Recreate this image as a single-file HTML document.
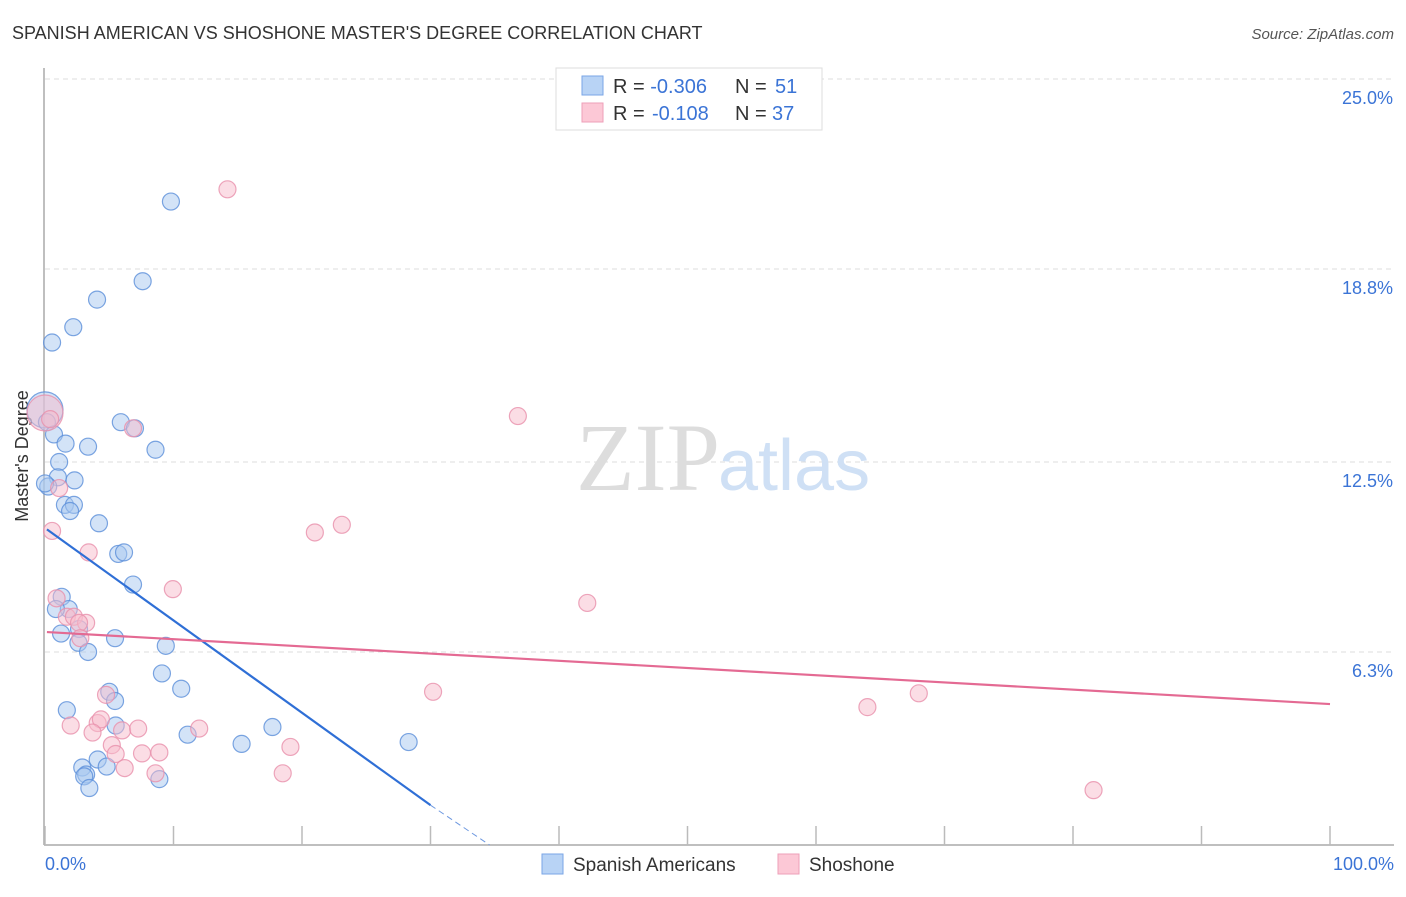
<!DOCTYPE html>
<html><head><meta charset="utf-8"><style>
body{margin:0;background:#fff;font-family:"Liberation Sans",sans-serif}
</style></head><body>
<svg width="1406" height="892" xmlns="http://www.w3.org/2000/svg" style="font-family:'Liberation Sans',sans-serif">
<text x="12" y="39" font-size="18" fill="#333">SPANISH AMERICAN VS SHOSHONE MASTER'S DEGREE CORRELATION CHART</text>
<text x="1394" y="39" font-size="15" fill="#555" font-style="italic" text-anchor="end">Source: ZipAtlas.com</text>
<g id="grid"></g>
<text x="720" y="490" font-size="96" font-family="Liberation Serif" fill="#ddd" text-anchor="end">ZIP</text>
<text x="718" y="490" font-size="72" fill="#cfe0f5">atlas</text>
<line x1="44" y1="68" x2="44" y2="845" stroke="#aaa" stroke-width="1.5"/>
<line x1="44" y1="845" x2="1394" y2="845" stroke="#aaa" stroke-width="1.5"/>
<g id="xticks"></g>
<text x="28" y="456" font-size="18" fill="#333" text-anchor="middle" transform="rotate(-90 28 456)">Master's Degree</text>
<text x="45" y="870" font-size="18" fill="#3b74d6">0.0%</text>
<text x="1394" y="870" font-size="18" fill="#3b74d6" text-anchor="end">100.0%</text>
<g id="pts"></g>
<g id="trend"></g>
<g>
<rect x="556" y="68" width="266" height="62" fill="#fff" stroke="#ddd"/>
<rect x="582" y="76" width="21" height="19" fill="#b8d3f5" stroke="#7aa6e6"/>
<rect x="582" y="103" width="21" height="19" fill="#fcc8d6" stroke="#ee9fb8"/>
<text x="613" y="93" font-size="20" fill="#333">R = <tspan fill="#3b74d6">-0.306</tspan><tspan x="735">N = </tspan><tspan fill="#3b74d6" x="775">51</tspan></text>
<text x="613" y="120" font-size="20" fill="#333">R = <tspan fill="#3b74d6" x="652">-0.108</tspan><tspan x="735">N = </tspan><tspan fill="#3b74d6" x="772">37</tspan></text>
</g>
<g>
<rect x="542" y="854" width="21" height="20" fill="#b8d3f5" stroke="#7aa6e6"/>
<text x="573" y="871" font-size="19" fill="#333">Spanish Americans</text>
<rect x="778" y="854" width="21" height="20" fill="#fcc8d6" stroke="#ee9fb8"/>
<text x="809" y="871" font-size="19" fill="#333">Shoshone</text>
</g>
</svg>
<script>
const yTicks=[25.0,18.8,12.5,6.3];
const yTickLabels=["25.0%","18.8%","12.5%","6.3%"];
const xTickVals=[0,10,20,30,40,50,60,70,80,90,100];
const blueX=[9.8,7.6,4.05,2.2,0.55,0.0,0.15,0.7,5.9,7.0,1.6,3.35,8.6,1.1,1.0,2.3,0.25,1.55,2.25,1.95,4.2,5.7,6.15,6.85,1.3,1.85,0.85,2.65,1.25,5.45,2.6,3.35,9.4,9.1,10.6,5.0,5.45,1.7,5.5,17.7,11.1,15.3,28.3,4.1,4.8,2.9,3.2,3.05,8.9,3.45,0.0];
const blueY=[21.0,18.4,17.8,16.9,16.4,14.2,13.8,13.4,13.8,13.6,13.1,13.0,12.9,12.5,12.0,11.9,11.7,11.1,11.1,10.9,10.5,9.5,9.55,8.5,8.1,7.7,7.7,7.05,6.9,6.75,6.6,6.3,6.5,5.6,5.1,5.0,4.7,4.4,3.9,3.85,3.6,3.3,3.36,2.79,2.56,2.53,2.3,2.24,2.15,1.86,11.8];
const pinkX=[14.2,0.0,0.4,6.85,36.8,1.1,0.55,3.4,21.0,23.1,9.95,42.2,0.9,1.7,2.25,3.2,2.65,2.75,30.2,4.75,68.0,64.0,4.1,4.35,2.0,3.7,6.0,7.25,5.2,5.5,12.0,7.55,8.9,19.1,6.2,8.6,18.5,81.6];
const pinkY=[21.4,14.1,13.9,13.6,14.0,11.65,10.25,9.55,10.2,10.45,8.35,7.9,8.05,7.45,7.45,7.25,7.25,6.75,5.0,4.9,4.95,4.5,3.98,4.1,3.9,3.67,3.74,3.8,3.26,2.97,3.8,2.99,3.02,3.2,2.51,2.34,2.34,1.79];
const blueBig=[5], pinkBig=[1];
const blueTrend=[[0.15,10.3],[30,1.3]], blueDash=[[30,1.3],[34.6,0]];
const pinkTrend=[[0.15,6.95],[100,4.6]];
const NS="http://www.w3.org/2000/svg";
const X=v=>45+v/100*1285, Y=v=>845-v/25*766;
function mk(t,a,p){const e=document.createElementNS(NS,t);for(const k in a)e.setAttribute(k,a[k]);p.appendChild(e);return e;}
const grid=document.getElementById('grid');
yTicks.forEach((v,i)=>{
 const l=mk('line',{x1:45,x2:1394,y1:Y(v),y2:Y(v),stroke:'#ddd','stroke-dasharray':'5,4'},grid);
 
 
 const t=mk('text',{x:1393,y:Y(v)+25,'font-size':18,fill:'#3b74d6','text-anchor':'end'},grid);
 t.textContent=yTickLabels[i];
 
 
});
const xt=document.getElementById('xticks');
xTickVals.forEach(v=>{
 const l=mk('line',{x1:X(v),x2:X(v),y1:826,y2:845,stroke:'#bbb','stroke-width':1.5},xt);
 
 
});
const pts=document.getElementById('pts');
function series(xs,ys,big,fill,stroke,name){
 xs.forEach((x,i)=>{
  const c=mk('circle',{cx:X(x),cy:Y(ys[i]),r:big.includes(i)?18:8.5,fill:fill,'fill-opacity':0.5,stroke:stroke,'stroke-opacity':0.8,'stroke-width':1.2},pts);
  
  
 });
}
series(blueX,blueY,blueBig,'#a8c8f0','#5b8fd9','point-spanish-american');
series(pinkX,pinkY,pinkBig,'#f8bccc','#e890ab','point-shoshone');
const tr=document.getElementById('trend');
let l=mk('line',{x1:X(blueTrend[0][0]),y1:Y(blueTrend[0][1]),x2:X(blueTrend[1][0]),y2:Y(blueTrend[1][1]),stroke:'#2f6fd6','stroke-width':2.2},tr);


l=mk('line',{x1:X(blueDash[0][0]),y1:Y(blueDash[0][1]),x2:X(blueDash[1][0]),y2:Y(blueDash[1][1]),stroke:'#6d98e0','stroke-width':1,'stroke-dasharray':'6,4'},tr);


l=mk('line',{x1:X(pinkTrend[0][0]),y1:Y(pinkTrend[0][1]),x2:X(pinkTrend[1][0]),y2:Y(pinkTrend[1][1]),stroke:'#e46a93','stroke-width':2.2},tr);


</script>
</body></html>
